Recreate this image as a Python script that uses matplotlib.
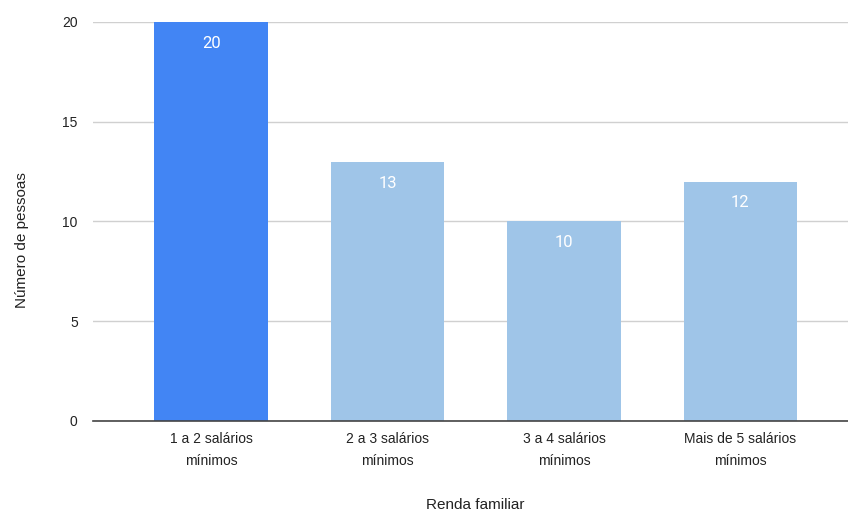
import matplotlib
matplotlib.use("Agg")
import matplotlib.pyplot as plt

categories = ["1 a 2 salários\nmínimos", "2 a 3 salários\nmínimos", "3 a 4 salários\nmínimos", "Mais de 5 salários\nmínimos"]
values = [20, 13, 10, 12]
colors = ["#4285F4", "#9FC5E8", "#9FC5E8", "#9FC5E8"]
yticks = [0, 5, 10, 15, 20]

W, H = 848, 514
fig = plt.figure(figsize=(W / 100, H / 100), dpi=100)
left, right, top, bottom = 93, 848, 22, 421
ax = fig.add_axes([left / W, 1 - bottom / H, (right - left) / W, (bottom - top) / H])

x = list(range(len(categories)))
bars = ax.bar(x, values, width=0.645, color=colors, zorder=3)
for xi, v in zip(x, values):
    ax.annotate(str(v), (xi, v), xytext=(0, -10), textcoords="offset points",
                ha="center", va="top", color="white", fontsize=12, family="Roboto", zorder=4)

ax.set_xlim(-0.67, 3.61)
ax.set_ylim(0, 20)
ax.set_yticks(yticks)
ax.set_yticklabels([str(t) for t in yticks], family="Liberation Sans", fontsize=10, color="#222222")
ax.set_xticks(x)
ax.set_xticklabels(categories, family="Liberation Sans", fontsize=10, color="#222222", linespacing=1.7)
ax.tick_params(axis="both", length=0)
ax.tick_params(axis="y", pad=11)
ax.tick_params(axis="x", pad=8)
ax.grid(axis="y", color="#d0d0d0", linewidth=1, zorder=0)
for s in ["top", "right", "left"]:
    ax.spines[s].set_visible(False)
ax.spines["bottom"].set_color("#444444")
ax.spines["bottom"].set_linewidth(1.2)
ax.spines["bottom"].set_zorder(5)

fig.text(475 / W, 1 - 505 / H, "Renda familiar", ha="center", va="center",
         family="Liberation Sans", fontsize=11, color="#222222")
fig.text(22 / W, 1 - 240 / H, "Número de pessoas", ha="center", va="center", rotation=90,
         family="Liberation Sans", fontsize=11, color="#222222")

fig.savefig("out.png", dpi=100)
